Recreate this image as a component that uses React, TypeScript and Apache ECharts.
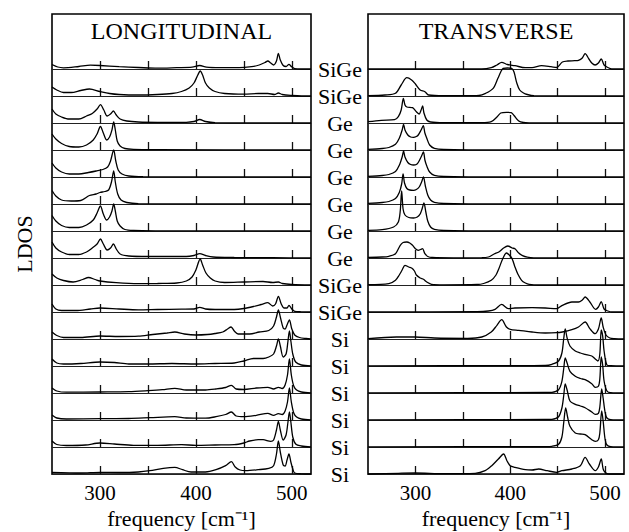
import React, { useEffect, useRef } from "react";
import * as echarts from "echarts";

// ---------------- data ----------------
const FREQ_MIN = 250;
const FREQ_MAX = 520;
const layerLabels = ["SiGe", "SiGe", "Ge", "Ge", "Ge", "Ge", "Ge", "Ge", "SiGe", "SiGe", "Si", "Si", "Si", "Si", "Si", "Si"];
const panelTitles = ["LONGITUDINAL", "TRANSVERSE"];
const tickValues = [300, 350, 400, 450, 500];
const tickLabels = [300, 400, 500];
const xAxisName = "frequency [cm\u207B\u00B9]";
const yAxisName = "LDOS";

// Longitudinal LDOS, [frequency (cm^-1), LDOS (arb. units)], top layer first
const lon00 = [[250,4.5],[256,2],[262,1.2],[278,2.5],[290,3.8],[300,3.5],[320,2.3],[340,1.5],[360,0.8],[380,1.3],[396,1.8],[404,3.5],[411,1.8],[425,1.3],[445,1.3],[458,2.3],[466,4],[472,6.5],[475,8],[478,6],[481,4],[484,8],[486,15.5],[488,9],[491,3.5],[494,2.5],[497,4.7],[499.5,2.5],[503,0.3],[510,0],[520,0]];
const lon01 = [[250,9],[255,6],[262,3.5],[270,3.5],[280,5.5],[289,7],[300,4.5],[310,2.5],[320,1.5],[340,1],[360,1.5],[375,2.5],[385,4.5],[393,8],[398,13],[402,21],[404.5,25],[407,21],[410,13],[414,8],[420,4.5],[430,2.5],[450,1.8],[465,2.5],[475,2.5],[482,1.5],[486,3],[490,1.5],[500,0.5],[510,0],[520,0]];
const lon02 = [[250,14],[254,9],[260,6],[268,4],[278,4],[286,7],[292,9.5],[297,14],[300.5,18.3],[304,13],[307.5,7],[311,9],[314,12],[317,8],[321,4],[328,2],[340,1],[360,0.7],[390,0.7],[398,1.5],[404,3.5],[410,1.5],[420,0.3],[450,0.2],[520,0]];
const lon03 = [[250,16],[254,11],[260,6.5],[268,3.5],[278,3],[286,5],[293,10],[297,16],[300.5,23.5],[303.5,17],[307,10],[310,13],[312.5,20],[314.3,28],[316,20],[318,9],[321,4],[326,1.5],[335,0.6],[360,0.3],[520,0]];
const lon04 = [[250,14],[254,9],[260,5],[268,3],[278,3],[288,4.5],[296,6],[303,7.5],[308,10],[311,16],[314.3,27],[316.5,16],[319,7],[323,3],[330,1],[345,0.3],[520,0]];
const lon05 = [[250,13.5],[254,8],[260,4],[270,3],[280,3.5],[289,8.5],[296,10],[300,11.5],[305,12.5],[309,14],[312,22],[314.3,33],[316,22],[318.5,10],[322,4],[328,1.5],[340,0.4],[520,0]];
const lon06 = [[250,15.5],[254,10],[260,5.5],[268,3.5],[278,3.5],[286,6],[293,11],[297,18],[300.5,25],[303.5,17],[307,11],[310,14],[312.5,20],[314.3,27],[316,20],[318,10],[321,5],[326,1.5],[335,0.5],[360,0.2],[520,0]];
const lon07 = [[250,16],[254,10],[260,6],[268,3.5],[278,3.5],[286,6],[292,10],[297,14],[300.5,19],[303.5,14],[307.5,8],[311,10],[314,14],[317,9],[321,4],[330,2],[350,1.5],[390,1.5],[398,2.5],[404,4.3],[410,2.5],[418,1],[440,0.5],[480,0.3],[520,0]];
const lon08 = [[250,11],[255,7],[262,4.5],[272,3],[282,5.5],[288,7.5],[295,5.5],[300,4],[317,2.3],[340,1.3],[360,1.5],[380,2],[390,4],[396,8],[400,15],[404.5,26],[407,20],[410.5,12],[415,7],[420,4],[430,2.5],[450,3],[470,3.5],[480,2.5],[486,3],[490,1.5],[500,0.5],[520,0]];
const lon09 = [[250,8],[254,3],[260,1.5],[275,1.5],[290,3],[300,4],[320,3],[340,2.2],[360,2.5],[385,2.8],[398,3],[404,4.7],[410,3],[420,2.5],[440,2.5],[450,3.5],[460,5.5],[468,7.5],[475,9.3],[480,6],[483,8],[486,15.7],[489,8],[492,4],[495,4],[497,6.7],[500,3],[503,0.7],[510,0.2],[520,0]];
const lon10 = [[250,7],[255,3.5],[262,1.5],[280,1.5],[300,3],[320,2.5],[340,2.8],[355,4.5],[370,6],[378,7],[388,5],[400,4],[412,4.5],[420,5.5],[428,7],[433,10],[436.7,12],[440,8],[444,5],[456,5],[466,7],[476,8.5],[481,13],[484,22],[486,29],[488,22],[491,11],[493,10],[495,14],[497.5,19],[500,10],[503,4],[508,1.5],[515,0.5],[520,0]];
const lon11 = [[250,7],[255,3],[262,2],[280,2.5],[300,4],[315,3.5],[330,2],[350,2],[375,2.5],[400,2],[420,2.5],[440,3],[450,5],[460,7.5],[470,7.5],[476,9],[481,12],[484,20],[486,27],[488,20],[491,9],[494,12],[496,25],[497.5,35],[499,25],[501,12],[504,4],[510,1],[520,0]];
const lon12 = [[250,5],[255,2],[265,0.8],[300,1],[330,1.3],[350,2.3],[365,3.3],[378,4.7],[390,3],[410,3],[421,4],[431,5.5],[437,7.7],[442,4],[450,3.5],[463,5],[475,5.7],[481,4],[486,5.7],[490,4.5],[493,8],[495.5,18],[497.5,34],[499.5,18],[502,7],[505,3],[510,1],[520,0]];
const lon13 = [[250,5],[255,2],[265,1],[300,1.3],[330,1.5],[352,2.3],[378,3.3],[390,2],[410,1.8],[421,3.3],[431,5.5],[437,8],[442,4],[450,3.3],[463,4.7],[475,6.7],[481,4.7],[486,6.3],[490,5.5],[493,9],[495.5,18],[497.5,32],[499.5,18],[502,7],[505,3],[510,1],[520,0]];
const lon14 = [[250,6],[255,2.5],[265,1.5],[285,2],[300,4],[315,3],[335,1.7],[360,1.7],[385,2.3],[400,1.7],[420,2],[440,2.3],[450,4],[456,6],[465,7.3],[470,7.3],[478,5.7],[481,7],[484,17],[486,25.7],[488,17],[491,7],[494,12],[496,25],[497.5,35],[499,25],[501,10],[504,3],[510,1],[520,0]];
const lon15 = [[250,1.7],[280,1],[300,1.7],[320,1.5],[340,2],[352,3.3],[366,5.7],[378,6.7],[386,4.3],[395,2],[410,2],[421,4.3],[431,8.3],[437,12.3],[441,7],[446,4],[452,3.3],[465,4.3],[476,5.7],[481,8.3],[484,20],[486,33],[488,22],[491,9],[493,8],[495,14],[497,20],[499,12],[501,5],[503,1],[510,0.2],[520,0]];

// Transverse LDOS
const tra00 = [[250,0],[370,0],[380,1.3],[386,4],[391,6.7],[397,4.5],[405,3.3],[416,1.3],[423,1.3],[433,3.3],[443,2.3],[449,1.5],[455,7],[461,8],[468,8.3],[472,8.7],[476,11],[479,15.3],[483,10],[486,6],[489.5,4],[493,6],[496,10],[499,4],[503,1.5],[507,0],[520,0]];
const tra01 = [[250,0.3],[268,1],[279,2.7],[285,11],[291,18.3],[296,16],[300,12],[305,6],[310,4.3],[314,1],[330,0.3],[360,0.3],[367,0.5],[374,2.7],[382,7.7],[387,17.7],[390,24],[392.5,27.7],[397,28],[401.5,27.7],[404,24],[407,12.7],[410,6],[414,3],[418,1.5],[425,0.3],[520,0]];
const tra02 = [[250,1.3],[264,2.7],[278,3.3],[282,6.3],[285,13],[287.3,24.7],[289,18],[291,16],[297,15.3],[301,11.3],[304,9],[306,13],[307.6,17],[309,10],[312,3],[316,1],[330,0.3],[370,0.3],[380,1.3],[386,6],[390,10],[396,10.7],[401,10.3],[404,7.5],[409,2],[414,0.5],[420,0.2],[520,0]];
const tra03 = [[250,0.7],[265,1.5],[272,2.5],[279,5.7],[283,11.7],[286,20],[287.5,25.7],[289,20],[292,15],[295,13],[298,12.7],[301,13.5],[303,15],[306,20],[308.3,24.3],[310,17],[312,11.7],[315,5],[320,1.7],[330,0.5],[360,0.2],[520,0]];
const tra04 = [[250,0.7],[265,1.5],[272,2.5],[279,5.5],[283,11.7],[286,20],[287.5,26],[289,20],[292,14.5],[295,12.5],[298,12],[301,12.5],[303,14.5],[306,20],[308.5,25],[310,17],[312,11],[315,5],[320,1.7],[330,0.5],[360,0.2],[520,0]];
const tra05 = [[250,0.7],[265,1.5],[272,2.5],[279,5.5],[283,11.5],[285.5,20],[287,30],[288.5,21],[291,15.5],[294,14],[298,13.7],[301,14.5],[304,17],[306.5,22],[308.5,27],[310.5,18],[313,9],[316,4],[320,1.7],[330,0.5],[360,0.2],[520,0]];
const tra06 = [[250,0.7],[265,1.3],[277,4],[282,9],[284,20],[285.5,40],[287,22],[289,16],[293,13.5],[298,13],[302,14],[305,17],[307,22],[309,28],[311,19],[313,10],[316,4],[320,1.7],[330,0.5],[360,0.2],[520,0]];
const tra07 = [[250,0.7],[265,1],[272,1.7],[279,4.3],[284,12.7],[287,15.5],[291,16],[294,15],[297,12.7],[300,9.3],[303,7.7],[305.5,8.5],[307.5,9.3],[310,4.3],[313,1.5],[318,0.5],[340,0.2],[370,0.3],[377,1],[383,4],[388,6],[393,10],[397.5,12],[402,10],[405,9.3],[409,5],[413,2.3],[418,0.8],[425,0.2],[520,0]];
const tra08 = [[250,0.3],[272,1.3],[279,4.7],[283,10],[286,15],[289,19.7],[293,18],[296,17],[299,14],[301,10],[305,7],[308.5,5.7],[312,3],[317,0.7],[330,0.2],[365,0.5],[372,1.5],[380,4.7],[385,10],[388,16.3],[392,26],[396,32],[399,30],[402,26.3],[405,18],[408,11],[412,4.7],[416,2],[420,0.7],[430,0],[520,0]];
const tra09 = [[250,0],[365,0.3],[377,1],[384,2.7],[391,7.7],[398,3.3],[405,4],[423,4.3],[437,4],[449,3.3],[455,6.7],[465,10],[472,10],[476,12],[479,15],[484,10],[490,2.7],[493,5],[496,10.3],[499,3],[503,1],[507,0],[520,0]];
const tra10 = [[250,0.3],[280,2],[300,2],[320,1],[355,0.7],[370,2],[380,7],[386,13.7],[391,19.3],[396,12],[400,9.7],[409,8.7],[423,7],[437,6],[449,6.3],[455,7],[465,9.3],[472,12],[479,17],[484,10.3],[489.5,5.3],[493,10],[496,21],[498,12],[501,4],[505,1],[510,0.3],[520,0]];
const tra11 = [[250,0.2],[400,0.3],[437,0.5],[444,1.7],[451,5],[454.5,13],[456.5,28],[458,37],[460,28],[463,20],[468.6,15],[474,13],[479,11.7],[486,10],[490,6.7],[492.5,5],[494.5,12],[496,36],[497.5,30],[499,15],[502,1],[506,0.3],[520,0]];
const tra12 = [[250,0.2],[437,0.5],[444,0.7],[451,3.3],[454.5,11.7],[456.5,25],[458,35],[460,30],[463,21.7],[468.6,16.7],[474,14.5],[479,13.3],[486,9.3],[489.7,5.7],[493,6.7],[494.5,14],[496,36],[497.5,28],[499,12],[502,2],[506,0.3],[520,0]];
const tra13 = [[250,0.2],[437,0.5],[444,0.7],[451,3.3],[454.5,12],[456.5,25],[458,36],[460,30],[463,19],[468.6,15.7],[474,14],[479,12.3],[486,8],[489.7,5.7],[493,6.7],[494.5,13],[496.5,31],[498,22],[500,8],[502,2],[506,0.3],[520,0]];
const tra14 = [[250,0.2],[437,0.4],[444,0.7],[451,2.7],[454.5,10],[456.5,25],[458.5,39],[460.5,30],[463,20.7],[468.6,14],[474,13],[479,12.3],[486,7.3],[489.7,5.7],[493,7.3],[494.5,14],[496.5,36],[498,26],[500,8],[502,2],[506,0.3],[520,0]];
const tra15 = [[250,0],[282,0.7],[300,1],[330,0.3],[363,0.7],[373.5,3.3],[380.5,8.3],[387.5,15],[393,20],[396.5,13.3],[400,8.3],[405,6.7],[416,4.3],[423,4],[430,5],[439,3.3],[449,1.7],[454.5,3.3],[465,5],[474,8.3],[479,16.7],[483.5,10],[489.7,3.3],[493,7],[496,15],[498,5],[500,1.7],[504,0],[520,0]];

const longitudinal = [lon00, lon01, lon02, lon03, lon04, lon05, lon06, lon07, lon08, lon09, lon10, lon11, lon12, lon13, lon14, lon15];
const transverse = [tra00, tra01, tra02, tra03, tra04, tra05, tra06, tra07, tra08, tra09, tra10, tra11, tra12, tra13, tra14, tra15];
const panels = [longitudinal, transverse];

// ---------------- layout / style ----------------
const FONT = "Liberation Serif";
const PANEL_LEFT = [52, 368];
const PANEL_WIDTH = [259, 256];
const PANEL_TOP = 14;
const PANEL_BOTTOM = 474;
const STRIP_H = 27;

function buildOption() {
  const nStrip = layerLabels.length;
  const grid: any[] = [];
  const xAxis: any[] = [];
  const yAxis: any[] = [];
  const series: any[] = [];

  panels.forEach((traces, p) => {
    traces.forEach((data, k) => {
      const idx = grid.length;
      const bottomY = PANEL_BOTTOM - STRIP_H * (nStrip - 1 - k);
      grid.push({
        left: PANEL_LEFT[p],
        width: PANEL_WIDTH[p],
        top: bottomY - STRIP_H,
        height: STRIP_H,
        outerBoundsMode: "none",
      });
      const isBottom = k === nStrip - 1;
      xAxis.push({
        gridIndex: idx,
        type: "value",
        min: FREQ_MIN,
        max: FREQ_MAX,
        interval: 50,
        axisLine: { show: true, onZero: false, lineStyle: { color: "#222", width: 1 } },
        axisTick: { show: true, inside: true, length: 8, customValues: tickValues, lineStyle: { color: "#111", width: 1.3 } },
        axisLabel: {
          show: isBottom,
          customValues: tickLabels,
          formatter: (v: number) => (tickLabels.indexOf(v) >= 0 ? String(v) : ""),
          margin: 8,
          fontSize: 21,
          color: "#000",
          fontFamily: FONT,
        },
        splitLine: { show: false },
      });
      yAxis.push({
        gridIndex: idx,
        type: "value",
        min: 0,
        max: STRIP_H,
        interval: STRIP_H,
        show: p === 1,
        position: "left",
        axisLine: { show: false },
        axisTick: { show: false },
        splitLine: { show: false },
        axisLabel: {
          show: p === 1,
          formatter: (v: number) => (v === 0 ? layerLabels[k] : ""),
          align: "center",
          margin: 28,
          fontSize: 22,
          color: "#000",
          fontFamily: FONT,
        },
      });
      series.push({
        type: "line",
        name: `${panelTitles[p]} ${k}`,
        xAxisIndex: idx,
        yAxisIndex: idx,
        data,
        showSymbol: false,
        symbol: "none",
        smooth: 0.3,
        clip: false,
        lineStyle: { color: "#000", width: 1.3 },
        z: 3,
      });
    });
  });

  // frame grids (one per panel) carrying the axis names
  panels.forEach((_, p) => {
    const idx = grid.length;
    grid.push({
      left: PANEL_LEFT[p],
      width: PANEL_WIDTH[p],
      top: PANEL_TOP,
      height: PANEL_BOTTOM - PANEL_TOP,
      show: true,
      borderColor: "#000",
      borderWidth: 1.6,
      backgroundColor: "transparent",
      outerBoundsMode: "none",
    });
    xAxis.push({
      gridIndex: idx,
      type: "value",
      min: FREQ_MIN,
      max: FREQ_MAX,
      axisLine: { show: false },
      axisTick: { show: false },
      axisLabel: { show: false },
      splitLine: { show: false },
      name: xAxisName,
      nameLocation: "middle",
      nameGap: 33,
      nameTextStyle: { fontSize: 22, color: "#000", fontFamily: FONT },
    });
    yAxis.push({
      gridIndex: idx,
      type: "value",
      min: 0,
      max: 1,
      show: p === 0,
      axisLine: { show: false },
      axisTick: { show: false },
      axisLabel: { show: false },
      splitLine: { show: false },
      name: p === 0 ? yAxisName : "",
      nameLocation: "middle",
      nameRotate: 90,
      nameGap: 17,
      nameTextStyle: { fontSize: 22, color: "#000", fontFamily: FONT },
    });
  });

  const graphic = panelTitles.map((t, p) => ({
    type: "text",
    x: PANEL_LEFT[p] + PANEL_WIDTH[p] / 2,
    y: 31,
    style: {
      text: t,
      align: "center",
      verticalAlign: "middle",
      fontSize: 24,
      fontFamily: FONT,
      fill: "#000",
    },
  }));

  return {
    animation: false,
    backgroundColor: "#fff",
    textStyle: { fontFamily: FONT, color: "#000" },
    grid,
    xAxis,
    yAxis,
    series,
    graphic,
  };
}

export default function App() {
  const ref = useRef<HTMLDivElement>(null);
  useEffect(() => {
    document.body.style.margin = "0";
    if (!ref.current) return;
    const chart = echarts.init(ref.current, null, { renderer: "svg" });
    chart.setOption(buildOption() as any);
    return () => chart.dispose();
  }, []);
  return <div ref={ref} style={{ width: 629, height: 532 }} />;
}
